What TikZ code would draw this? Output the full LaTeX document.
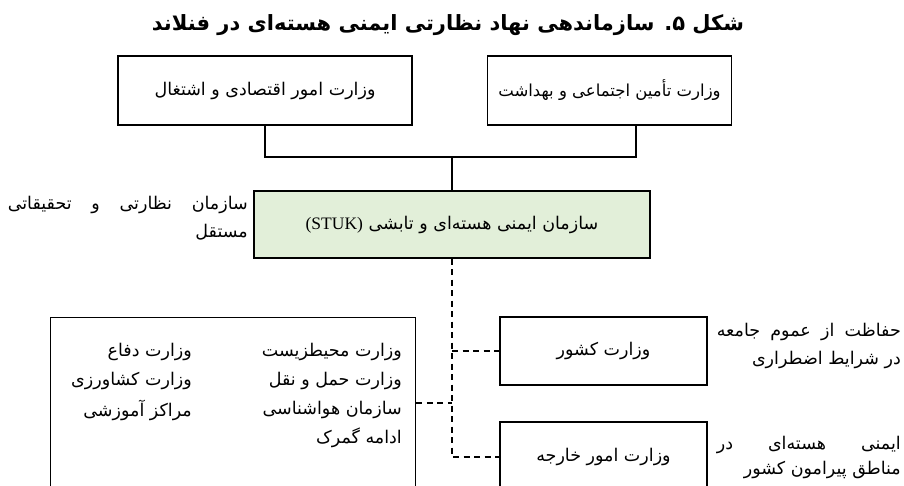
\documentclass[tikz,border=0pt]{standalone}
\usepackage{fontspec}
\setmainfont{Liberation Serif}
\newfontfamily\fa[Script=Arabic]{DejaVu Sans}
\TeXXeTstate=1
\usetikzlibrary{calc}
\definecolor{stukgreen}{RGB}{226,239,217}
\newcommand{\Rt}[1]{{\fa\beginR #1\endR}}
\begin{document}
\begin{tikzpicture}[x=1pt,y=-1pt,
  box/.style={draw, line width=1.3pt, inner sep=0pt, align=center, font=\fontsize{17.5}{21}\selectfont},
  lab/.style={inner sep=0pt, font=\fontsize{17.5}{21}\selectfont},
  conn/.style={line width=1.3pt},
  dconn/.style={line width=1.3pt, dash pattern=on 6pt off 4.5pt}]
\useasboundingbox (0,0) rectangle (904,486);
\clip (0,0) rectangle (904,486);
% title
\node[inner sep=0pt, font=\fontsize{21}{25}\selectfont] (title) at (448,25) {{\fa\bfseries\beginR شکل ۵. سازماندهی نهاد نظارتی ایمنی هسته‌ای در فنلاند\endR}};
% top boxes
\node[box, minimum width=294pt, minimum height=69pt] (econ) at (265,90.5) {\Rt{وزارت امور اقتصادی و اشتغال}};
\node[box, minimum width=244pt, minimum height=69pt, font=\fontsize{16.5}{20}\selectfont] (health) at (609.5,90.5) {\Rt{وزارت تأمین اجتماعی و بهداشت}};
% STUK
\node[box, fill=stukgreen, minimum width=396pt, minimum height=67pt] (stuk) at (452,224.5) {{\fa\beginR سازمان ایمنی هسته‌ای و تابشی \beginL{\normalfont (STUK)}\endL\endR}};
\node[lab, anchor=east] (indepA) at (248,205) {{\fa\hbox to 240pt{\beginR سازمان\hfill نظارتی\hfill و\hfill تحقیقاتی\endR}}};
\node[lab, anchor=east] (indepB) at (248,232) {\Rt{مستقل}};
% other organisations box
\node[box, minimum width=365pt, minimum height=180pt, anchor=north west] (others) at (50,317) {};
\node[lab, anchor=east] (o1) at (402,352) {\Rt{وزارت محیطزیست}};
\node[lab, anchor=east] (o2) at (402,381) {\Rt{وزارت حمل و نقل}};
\node[lab, anchor=east] (o3) at (402,410) {\Rt{سازمان هواشناسی}};
\node[lab, anchor=east] (o4) at (402,438) {\Rt{ادامه گمرک}};
\node[lab, anchor=east] (o5) at (192,352) {\Rt{وزارت دفاع}};
\node[lab, anchor=east] (o6) at (192,381) {\Rt{وزارت کشاورزی}};
\node[lab, anchor=east] (o7) at (192,410) {\Rt{مراکز آموزشی}};
% right boxes
\node[box, minimum width=207pt, minimum height=68pt] (kashvar) at (603.5,351) {\Rt{وزارت کشور}};
\node[box, minimum width=207pt, minimum height=70pt] (kharejeh) at (603.5,457) {\Rt{وزارت امور خارجه}};
% right labels
\node[lab, anchor=east] (r1) at (901,332) {{\fa\hbox to 184pt{\beginR حفاظت\hfill از\hfill عموم\hfill جامعه\endR}}};
\node[lab, anchor=east] (r2) at (901,360) {\Rt{در شرایط اضطراری}};
\node[lab, anchor=east] (r3) at (901,445) {{\fa\hbox to 184pt{\beginR ایمنی\hfill هسته‌ای\hfill در\endR}}};
\node[lab, anchor=east] (r4) at (901,470) {\Rt{مناطق پیرامون کشور}};
% connectors
\coordinate (j) at (452,157);
\draw[conn] (econ.south) |- (j) -| ($(health.south)+(26.5,0)$);
\draw[conn] (j) -- (stuk.north);
\coordinate (d1) at (452,351);
\coordinate (d2) at (452,403);
\coordinate (d3) at (452,457);
\draw[dconn] (stuk.south) -- (d3) -- (kharejeh.west);
\draw[dconn] (d1) -- (kashvar.west);
\draw[dconn] (others.east |- d2) -- (d2);
\end{tikzpicture}
\end{document}
